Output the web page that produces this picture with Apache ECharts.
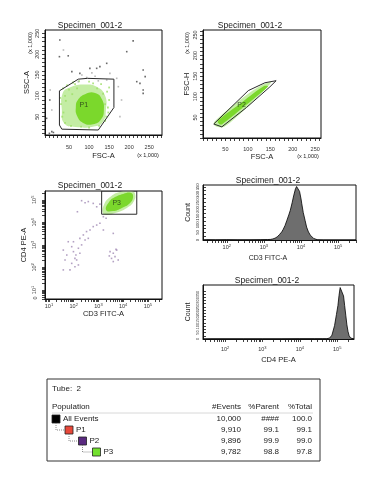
<!DOCTYPE html>
<html><head><meta charset="utf-8">
<script src="https://cdn.jsdelivr.net/npm/echarts@6/dist/echarts.min.js"></script>
<style>html,body{margin:0;padding:0;background:#fff;}#c{width:379px;height:478px;}</style>
</head><body><div id="c"></div>
<script>
// ================= DATA =================
const titleText = 'Specimen_001-2';
const scaleNote = '(x 1,000)';

// linear axis tick labels (x 1,000)
const linLabels = [50, 100, 150, 200, 250];
// log axis decade labels (exponent of 10)
const logLabels = [1, 2, 3, 4, 5];

// ---- Plot 1: FSC-A vs SSC-A ----
const p1Gate = [[26,112],[73,140],[96,142],[162,140],[162,72],[123,18],[32,20],[26,30]];
const p1Halo = [[34,106],[52,120],[90,127],[120,121],[140,100],[142,66],[135,38],[115,27],[66,25],[38,34],[32,66]];
const p1Core = [[72,90],[90,104],[115,107],[132,92],[137,66],[130,44],[110,32],[85,35],[70,52],[67,73]];
const p1Speckle = [[35,118],[45,125],[60,132],[75,135],[100,134],[130,128],[145,110],[150,90],[148,60],[140,40],[125,28],[100,24],[80,26],[55,28],[40,35],[33,50],[30,80],[28,95],[40,100],[50,115],[120,118],[135,105],[140,80],[150,120],[110,130],[65,128],[36,60],[42,88],[58,104],[70,118],[147,72],[143,50]];
const p1DotsDark = [[27,234],[26,194],[48,196],[57,158],[77,154],[102,166],[119,166],[127,170],[144,178],[194,206],[210,232],[235,162],[240,146],[219,134],[227,130],[235,114],[235,106],[2,90],[-6,46],[1,10],[7,14],[11,12]];
const p1DotsLight = [[181,90],[144,138],[82,150],[94,144],[107,155],[115,147],[123,136],[169,142],[173,122],[177,50],[3,114],[7,66],[152,154],[36,210],[73,134]];
const p1LabelPos = [[87,78]];

// ---- Plot 2: FSC-A vs FSC-H ----
const p2Gate = [[24,34],[101,115],[138,134],[163,139],[149,124],[97,74],[42,27]];
const p2Halo = [[25,39],[82,92],[130,128],[152,135],[105,82],[47,27],[27,29]];
const p2Core = [[33,42],[87,87],[136,126],[145,125],[96,80],[42,33],[36,34]];
const p2LabelPos = [[86,80]];

// ---- Plot 3: CD3 FITC-A vs CD4 PE-A (log10 units) ----
const p3Dots = [[1.58,2.77],[1.72,2.55],[1.92,2.92],[1.99,2.70],[2.05,2.40],[2.12,2.33],[2.19,2.85],[2.25,2.63],[1.92,2.18],[2.05,2.03],[1.85,1.89],[2.19,2.11],[1.65,2.33],[1.78,3.14],[2.32,3.00],[1.99,3.14],[2.09,2.55],
  [3.47,2.70],[3.60,2.63],[3.67,2.48],[3.74,2.77],[3.53,2.40],[3.80,2.33],[3.60,2.26],[3.71,2.80],[3.44,2.51],
  [2.39,3.44],[2.52,3.59],[2.66,3.66],[2.79,3.81],[2.93,3.88],[3.06,3.96],[2.59,3.29],[2.25,3.29],[2.46,3.22],
  [2.32,4.96],[2.46,4.87],[2.59,4.92],[2.79,4.84],[3.06,4.81],[2.15,4.47],[2.93,4.69],[3.20,4.25],[3.31,4.18],
  [3.60,3.51],[3.20,3.66],[1.58,1.89]];
const p3Halo = [[3.18,4.41],[3.22,4.77],[3.47,5.12],[3.87,5.35],[4.36,5.38],[4.48,5.26],[4.44,4.95],[4.15,4.64],[3.67,4.41],[3.35,4.33]];
const p3Core = [[3.31,4.55],[3.43,4.90],[3.67,5.12],[4.00,5.26],[4.32,5.30],[4.40,5.12],[4.28,4.86],[3.95,4.64],[3.59,4.50]];
const p3GateX = [3.13, 4.55];
const p3GateY = [4.36, 5.39];
const p3LabelPos = [[3.74,4.84]];
const p3ZeroPos = 0.65;

// ---- Histogram 1: CD3 FITC-A ----
const h1X = [1.36,1.45,1.70,2.00,2.30,2.60,2.90,3.10,3.18,3.24,3.30,3.36,3.42,3.48,3.52,3.57,3.62,3.67,3.71,3.76,3.80,3.85,3.88,3.90,3.93,3.96,4.00,4.02,4.06,4.11,4.15,4.20,4.25,4.29,4.34,4.38,4.45,4.60,5.00,5.48];
const h1Y = [0,2,1,2,1,1,2,3,4,7,12,21,36,53,70,96,130,165,195,245,290,337,352,355,345,320,270,238,180,128,85,53,32,21,10,4,1,0,0,0];
const h1YLabels = [0,50,100,150,200,250,300,350];

// ---- Histogram 2: CD4 PE-A ----
const h2X = [1.41,1.60,2.00,2.50,3.00,3.50,4.00,4.40,4.60,4.72,4.80,4.86,4.93,4.98,5.02,5.05,5.08,5.10,5.13,5.17,5.20,5.23,5.26,5.29,5.32,5.36,5.40,5.45];
const h2Y = [0,1,1,1,1,1,2,2,2,2,8,30,105,190,260,340,400,412,385,335,260,185,110,58,25,8,2,0];
const h2YLabels = [0,50,100,150,200,250,300,350,400];

// ---- Population table ----
const tubeLabel = 'Tube:  2';
const tableHeaders = ['Population', '#Events', '%Parent', '%Total'];
const popNames = ['All Events', 'P1', 'P2', 'P3'];
const popEvents = ['10,000', '9,910', '9,896', '9,782'];
const popParent = ['####', '99.1', '99.9', '98.8'];
const popTotal = ['100.0', '99.1', '99.0', '97.8'];

// ================= STYLE =================
const FONT = '"Liberation Sans", Arial, sans-serif';
const POP_COLORS = ['#000000', '#e8483a', '#5a2a80', '#72e02e'];
const GREEN_CORE = '#7bd82c';
const GREEN_HALO = '#c4eda4';
const GREEN_SPECK = '#9ede68';
const TXT = '#222';

function ticksLin(min, max, step) { const o = []; for (let v = Math.ceil(min/step)*step; v <= max; v += step) o.push(v); return o; }
function ticksLog(min, max) { const o = []; for (let d = 0; d <= 5; d++) for (let k = 1; k <= 9; k++) { const v = d + Math.log10(k); if (v >= min && v <= max) o.push(v); } return o; }
function inRange(arr, min, max) { return arr.filter(v => v >= min && v <= max); }

const richSup = {
  b: {fontSize: 5.5, color: '#333', fontFamily: FONT},
  s: {fontSize: 4, color: '#333', fontFamily: FONT, padding: [0, 0, 3, 0]}
};
function logFmt(v) { return v < 0.9 ? '{b|0}' : '{b|10}{s|' + Math.round(v) + '}'; }

function makeAxis(o) {
  return {
    type: 'value', gridIndex: o.g, min: o.min, max: o.max,
    axisLine: {show: true, onZero: false, lineStyle: {color: '#111', width: 1}},
    splitLine: {show: false},
    axisTick: {show: true, inside: !!o.tickInside, length: o.tickLen || 3, customValues: o.ticks, lineStyle: {color: '#111', width: 0.8}},
    axisLabel: {show: true, customValues: o.labels, fontSize: o.labelSize || 5.5, color: '#333', fontFamily: FONT,
      margin: o.margin, rotate: o.rotate || 0, formatter: o.fmt || (v => String(v)), rich: richSup},
    name: o.name || '', nameLocation: 'middle', nameGap: o.nameGap,
    nameTextStyle: {fontSize: o.nameSize || 7.5, color: TXT, fontFamily: FONT, padding: o.namePad || 0}
  };
}

const ax = {
  p1x: {min: -10, max: 282}, p1y: {min: 6, max: 258},
  p2x: {min: 0, max: 263}, p2y: {min: 0, max: 262},
  p3x: {min: 0.84, max: 5.57}, p3y: {min: 0.6, max: 5.39},
  h1x: {min: 1.36, max: 5.48}, h1y: {min: 0, max: 362},
  h2x: {min: 1.41, max: 5.45}, h2y: {min: 0, max: 420}
};

const xAxes = [
  makeAxis({g:0, ...ax.p1x, ticks: ticksLin(ax.p1x.min, ax.p1x.max, 10), labels: linLabels, margin: 9, name: 'FSC-A', nameGap: 17}),
  makeAxis({g:1, ...ax.p2x, ticks: ticksLin(ax.p2x.min, ax.p2x.max, 10), labels: linLabels, margin: 8, name: 'FSC-A', nameGap: 15}),
  makeAxis({g:2, ...ax.p3x, ticks: ticksLog(ax.p3x.min, ax.p3x.max), labels: inRange(logLabels, ax.p3x.min, ax.p3x.max), margin: 4, fmt: logFmt, name: 'CD3 FITC-A', nameGap: 11}),
  makeAxis({g:3, ...ax.h1x, ticks: ticksLog(ax.h1x.min, ax.h1x.max), labels: inRange(logLabels, ax.h1x.min, ax.h1x.max), margin: 4, fmt: logFmt, name: 'CD3 FITC-A', nameGap: 15, nameSize: 7, namePad: [0, 23, 0, 0]}),
  makeAxis({g:4, ...ax.h2x, ticks: ticksLog(ax.h2x.min, ax.h2x.max), labels: inRange(logLabels, ax.h2x.min, ax.h2x.max), margin: 7, fmt: logFmt, name: 'CD4 PE-A', nameGap: 17, nameSize: 7.5})
];
const yAxes = [
  makeAxis({g:0, ...ax.p1y, ticks: ticksLin(ax.p1y.min, ax.p1y.max, 10), labels: linLabels, margin: 5, rotate: 90, name: 'SSC-A', nameGap: 14}),
  makeAxis({g:1, ...ax.p2y, ticks: ticksLin(ax.p2y.min, ax.p2y.max, 10), labels: linLabels, margin: 5, rotate: 90, name: 'FSC-H', nameGap: 12}),
  makeAxis({g:2, ...ax.p3y, ticks: ticksLog(ax.p3y.min, ax.p3y.max), labels: [p3ZeroPos].concat(inRange(logLabels, ax.p3y.min, ax.p3y.max)), margin: 7, rotate: 90, fmt: logFmt, name: 'CD4 PE-A', nameGap: 17}),
  makeAxis({g:3, ...ax.h1y, ticks: ticksLin(0, ax.h1y.max, 25), labels: h1YLabels, margin: 3, rotate: 90, labelSize: 4.2, tickInside: true, name: 'Count', nameGap: 11, nameSize: 7}),
  makeAxis({g:4, ...ax.h2y, ticks: ticksLin(0, ax.h2y.max, 25), labels: h2YLabels, margin: 3, rotate: 90, labelSize: 4, tickInside: true, name: 'Count', nameGap: 11, nameSize: 7})
];

function polySeries(g, pts, style, z, smooth) {
  return {
    type: 'custom', xAxisIndex: g, yAxisIndex: g, clip: true, silent: true, z: z,
    data: [pts[0]],
    renderItem: (params, api) => ({
      type: 'polygon',
      shape: {points: pts.map(p => api.coord(p)), smooth: smooth || 0},
      style: style
    })
  };
}
function rectSeries(g, xs, ys, style, z) {
  const pts = [[xs[0], ys[0]], [xs[1], ys[0]], [xs[1], ys[1]], [xs[0], ys[1]]];
  return polySeries(g, pts, style, z, 0);
}
function dotSeries(g, pts, color, size, z) {
  return {type: 'scatter', xAxisIndex: g, yAxisIndex: g, data: pts, symbol: 'rect', symbolSize: size, silent: true, z: z,
    itemStyle: {color: color}};
}
function labelSeries(g, pos, text, z) {
  return {type: 'scatter', xAxisIndex: g, yAxisIndex: g, data: pos, symbolSize: 0, silent: true, z: z,
    label: {show: true, position: 'inside', formatter: text, fontSize: 7, color: '#1e2a18', fontFamily: FONT}};
}
const gateStyle = {fill: 'none', stroke: '#2a2a2a', lineWidth: 1};

const series = [
  // plot 1
  polySeries(0, p1Halo, {fill: GREEN_HALO}, 1, 0.5),
  dotSeries(0, p1Speckle, GREEN_SPECK, 1.8, 1),
  polySeries(0, p1Core, {fill: GREEN_CORE}, 2, 0.5),
  dotSeries(0, p1DotsLight, '#a9a9a9', 1.6, 3),
  dotSeries(0, p1DotsDark, '#444', 1.6, 3),
  polySeries(0, p1Gate, gateStyle, 4, 0),
  labelSeries(0, p1LabelPos, 'P1', 5),
  // plot 2
  polySeries(1, p2Halo, {fill: GREEN_HALO}, 1, 0.3),
  polySeries(1, p2Core, {fill: GREEN_CORE}, 2, 0.3),
  polySeries(1, p2Gate, gateStyle, 4, 0),
  labelSeries(1, p2LabelPos, 'P2', 5),
  // plot 3
  dotSeries(2, p3Dots, '#a08ab4', 1.6, 3),
  polySeries(2, p3Halo, {fill: GREEN_HALO}, 1, 0.5),
  polySeries(2, p3Core, {fill: GREEN_CORE}, 2, 0.5),
  rectSeries(2, p3GateX, p3GateY, gateStyle, 4),
  labelSeries(2, p3LabelPos, 'P3', 5),
  // histograms
  {type: 'line', xAxisIndex: 3, yAxisIndex: 3, data: h1X.map((x, i) => [x, h1Y[i]]), symbol: 'none', silent: true,
    lineStyle: {color: '#000', width: 0.8}, areaStyle: {color: '#6e6e6e', opacity: 1}},
  {type: 'line', xAxisIndex: 4, yAxisIndex: 4, data: h2X.map((x, i) => [x, h2Y[i]]), symbol: 'none', silent: true,
    lineStyle: {color: '#000', width: 0.8}, areaStyle: {color: '#6e6e6e', opacity: 1}}
];

// ---------- graphic: titles, scale notes, table ----------
function txt(x, y, text, size, align, extra) {
  return Object.assign({type: 'text', x: x, y: y, silent: true,
    style: {text: text, fontSize: size, fontFamily: FONT, fill: TXT, align: align || 'left', verticalAlign: 'middle',
      textAlign: align || 'left', textVerticalAlign: 'middle'}}, extra || {});
}
const graphics = [
  txt(90, 26, titleText, 8.5, 'center'),
  txt(250, 26, titleText, 8.5, 'center'),
  txt(90, 186, titleText, 8.5, 'center'),
  txt(268, 181, titleText, 8.5, 'center'),
  txt(267, 281, titleText, 8.5, 'center'),
  txt(148, 155, scaleNote, 5.5, 'center'),
  txt(308, 156, scaleNote, 5.5, 'center'),
  txt(30.5, 43, scaleNote, 5.5, 'center', {rotation: Math.PI / 2}),
  txt(187.5, 43, scaleNote, 5.5, 'center', {rotation: Math.PI / 2})
];
// table
const T = {left: 47, top: 379, right: 320, bottom: 461};
graphics.push({type: 'rect', silent: true, shape: {x: T.left, y: T.top, width: T.right - T.left, height: T.bottom - T.top},
  style: {fill: '#fff', stroke: '#333', lineWidth: 1}, z: -1});
graphics.push(txt(52, 389, tubeLabel, 8, 'left'));
const colRight = [241, 279, 312];
graphics.push(txt(52, 407, tableHeaders[0], 8, 'left'));
for (let c = 0; c < 3; c++) graphics.push(txt(colRight[c], 407, tableHeaders[c + 1], 8, 'right'));
graphics.push({type: 'line', silent: true, shape: {x1: 52, y1: 413, x2: 313, y2: 413}, style: {stroke: '#d8d8d8', lineWidth: 1}});
const rowY = [419, 430, 441, 452];
const sqX = [52, 65, 78.5, 92.5];
for (let i = 0; i < popNames.length; i++) {
  const y = rowY[i], x = sqX[i];
  if (i > 0) {
    const px = sqX[i - 1] + 4;
    graphics.push({type: 'polyline', silent: true, shape: {points: [[px, rowY[i - 1] + 4], [px, y], [x, y]]},
      style: {stroke: '#8a8a8a', lineWidth: 1, lineDash: [1, 1], fill: 'none'}});
  }
  graphics.push({type: 'rect', silent: true, shape: {x: x, y: y - 4, width: 8, height: 8},
    style: {fill: POP_COLORS[i], stroke: '#222', lineWidth: 0.8}});
  graphics.push(txt(x + 11, y, popNames[i], 8, 'left'));
  graphics.push(txt(colRight[0], y, popEvents[i], 8, 'right'));
  graphics.push(txt(colRight[1], y, popParent[i], 8, 'right'));
  graphics.push(txt(colRight[2], y, popTotal[i], 8, 'right'));
}

const gridStyle = {show: true, borderColor: '#111', borderWidth: 1, backgroundColor: 'transparent', containLabel: false};
const option = {
  animation: false,
  backgroundColor: '#fff',
  textStyle: {fontFamily: FONT},
  grid: [
    Object.assign({left: 45, top: 30, width: 117, height: 105}, gridStyle),
    Object.assign({left: 203, top: 30, width: 118, height: 108}, gridStyle),
    Object.assign({left: 45, top: 191, width: 117, height: 108}, gridStyle),
    Object.assign({left: 203, top: 185, width: 153, height: 55}, gridStyle),
    Object.assign({left: 203, top: 285, width: 151, height: 54}, gridStyle)
  ],
  xAxis: xAxes,
  yAxis: yAxes,
  series: series,
  graphic: {elements: graphics}
};
const chart = echarts.init(document.getElementById('c'), null, {renderer: 'canvas'});
chart.setOption(option);
</script>
</body></html>
